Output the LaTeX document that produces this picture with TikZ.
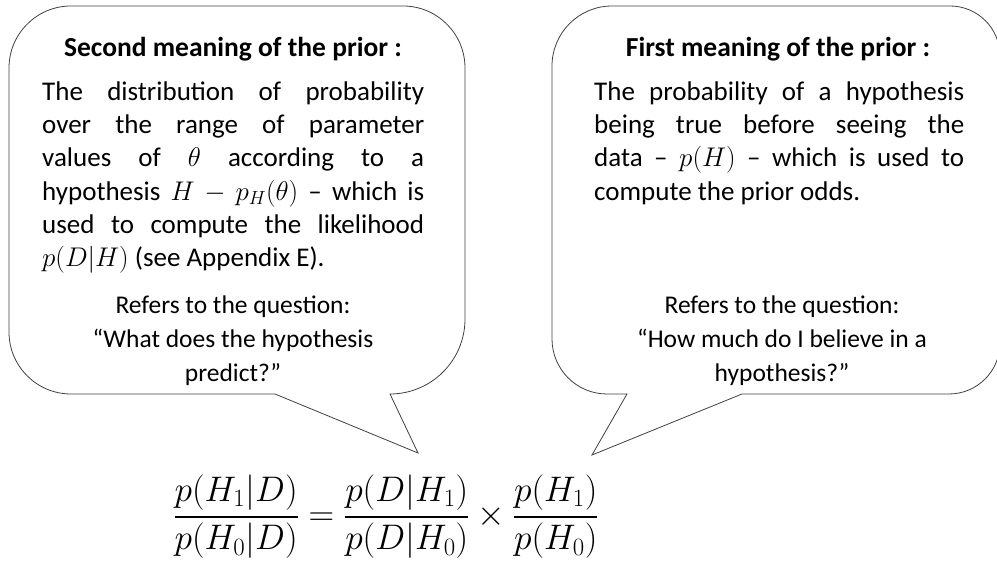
\documentclass[tikz,border=0pt]{standalone}
\usepackage{fix-cm}
\usepackage{amsmath}
\usepackage[no-math]{fontspec}
\setmainfont{Carlito}
\usetikzlibrary{positioning}
\newcommand{\oddsfrac}[2]{\genfrac{}{}{1.8pt}{0}{#1}{#2}}

\begin{document}
\begin{tikzpicture}[x=1pt, y=1pt,
        bubble/.style={draw=black!75, line width=0.8pt, line join=miter},
        head/.style={inner sep=0pt, anchor=base, font=\fontsize{27.5}{33.3}\selectfont\bfseries},
        txt/.style={inner sep=0pt, anchor=north west, align=justify, font=\fontsize{27}{33.3}\selectfont\sloppy},
        ask/.style={inner sep=0pt, anchor=north, align=center, font=\fontsize{25.5}{34}\selectfont},
        eqn/.style={inner sep=0pt, anchor=base, font=\fontsize{35.5}{42}\selectfont}]

    \useasboundingbox (0,0) rectangle (997,564);

    % tips of the two callouts
    \coordinate (tipL) at (418,111);
    \coordinate (tipR) at (592,109);

    % left callout: second meaning
    \draw[bubble] (390,170) arc[start angle=270, end angle=360, radius=75] -- (465,496)
        arc[start angle=0, end angle=90, radius=62] -- (71,558)
        arc[start angle=90, end angle=180, radius=62] -- (9,232)
        arc[start angle=180, end angle=270, radius=62] -- (275,170) -- (tipL) -- cycle;

    % right callout: first meaning
    \draw[bubble] (742,170) -- (949,170) arc[start angle=270, end angle=360, radius=51] -- (1000,508)
        arc[start angle=0, end angle=90, radius=50] -- (612,558)
        arc[start angle=90, end angle=180, radius=60] -- (552,225)
        arc[start angle=180, end angle=270, radius=55] -- (627,170) -- (tipR) -- cycle;

    \node[head] (head2) at (233,507) {Second meaning of the prior :};
    \node[txt, text width=382pt] (def2) at (42,487.3) {\strut The distribution of probability\linebreak
        over the range of parameter\linebreak
        values of $\theta$ according to a\linebreak
        hypothesis $H - p_H(\theta)$ – which is\linebreak
        used to compute the likelihood\linebreak
        $p(D|H)$ (see Appendix E).};
    \node[ask] (ask2) at (233,274.8) {\strut Refers to the question:\\ “What does the hypothesis\\ predict?”};

    \node[head] (head1) at (778,507) {First meaning of the prior :};
    \node[txt, text width=370pt] (def1) at (594,487.3) {\strut The probability of a hypothesis\linebreak
        being true before seeing the\linebreak
        data – $p(H)$ – which is used to\linebreak
        compute the prior odds.};
    \node[ask] (ask1) at (782,274.8) {\strut Refers to the question:\\ “How much do I believe in a\\ hypothesis?”};

    \node[eqn] (odds) at (386,38.5) {$\oddsfrac{p(H_1|D)}{p(H_0|D)} = \oddsfrac{p(D|H_1)}{p(D|H_0)} \times \oddsfrac{p(H_1)}{p(H_0)}$};
\end{tikzpicture}
\end{document}
